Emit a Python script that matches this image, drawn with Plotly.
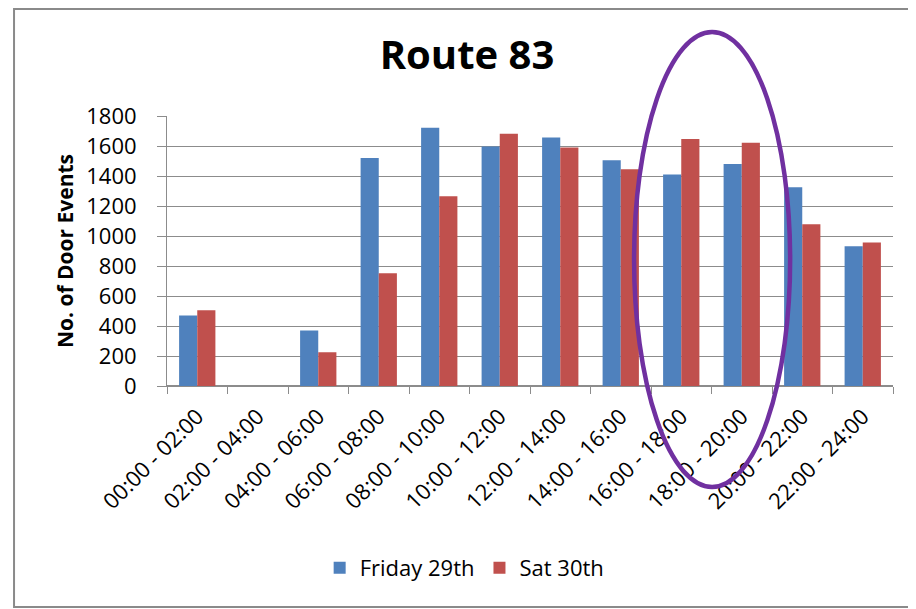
import plotly.graph_objects as go

# time slots on the x axis
slots = ["00:00 - 02:00", "02:00 - 04:00", "04:00 - 06:00", "06:00 - 08:00",
         "08:00 - 10:00", "10:00 - 12:00", "12:00 - 14:00", "14:00 - 16:00",
         "16:00 - 18:00", "18:00 - 20:00", "20:00 - 22:00", "22:00 - 24:00"]

friday = [470, None, 370, 1520, 1722, 1597, 1657, 1505, 1410, 1480, 1325, 932]
saturday = [505, None, 225, 752, 1265, 1682, 1590, 1445, 1647, 1622, 1078, 957]

y_ticks = [0, 200, 400, 600, 800, 1000, 1200, 1400, 1600, 1800]

FONT = "Open Sans"
GRID = "#8c8c8c"

fig = go.Figure()
fig.add_trace(go.Bar(x=slots, y=friday, name="Friday 29th",
                     marker=dict(color="#4F81BD", line=dict(width=0))))
fig.add_trace(go.Bar(x=slots, y=saturday, name="Sat 30th",
                     marker=dict(color="#C0504D", line=dict(width=0))))

# the page adds an 8px body margin, so the figure is a bit smaller and shifted
fig.update_layout(
    width=908, height=601,
    margin=dict(l=159, r=23, t=108, b=223),
    paper_bgcolor="white", plot_bgcolor="white",
    font=dict(family=FONT, color="black", size=21),
    barmode="group", bargap=0.4, bargroupgap=0,
    title=dict(text="<b>Route 83</b>", x=0.5055, xref="container", xanchor="center",
               y=0.922, yref="container", yanchor="middle",
               font=dict(family=FONT, size=40, color="black")),
    showlegend=True,
    legend=dict(orientation="h", x=0.41, xanchor="center", y=-0.674, yanchor="middle",
                font=dict(family=FONT, size=22), itemwidth=30),
)

fig.update_xaxes(
    type="category", tickangle=-45, tickson="boundaries",
    ticks="outside", ticklen=7, tickcolor=GRID, ticklabelstandoff=8,
    showline=True, linecolor=GRID, linewidth=1,
    showgrid=False, tickfont=dict(family=FONT, size=22),
)
fig.update_yaxes(
    range=[0, 1800], tickvals=y_ticks,
    ticks="outside", ticklen=9, tickcolor=GRID, ticklabelstandoff=16,
    showline=True, linecolor=GRID, linewidth=1,
    showgrid=True, gridcolor=GRID, gridwidth=1,
    zeroline=True, zerolinecolor=GRID,
    title=dict(text="<b>No. of Door Events</b>", standoff=6,
               font=dict(family=FONT, size=21)),
    tickfont=dict(family=FONT, size=22),
)

# outer chart border
fig.add_shape(type="rect", xref="paper", yref="paper",
              x0=-0.2107, x1=1.06, y0=-0.8185, y1=1.396,
              line=dict(color="#8a8a8a", width=2), layer="below")

# purple highlight ellipse around 16:00 - 20:00
fig.add_shape(type="circle", xref="x", yref="paper",
              x0=7.22, x1=9.80, y0=-0.374, y1=1.311,
              line=dict(color="#7030A0", width=4.5))

fig.write_html("out.html")
